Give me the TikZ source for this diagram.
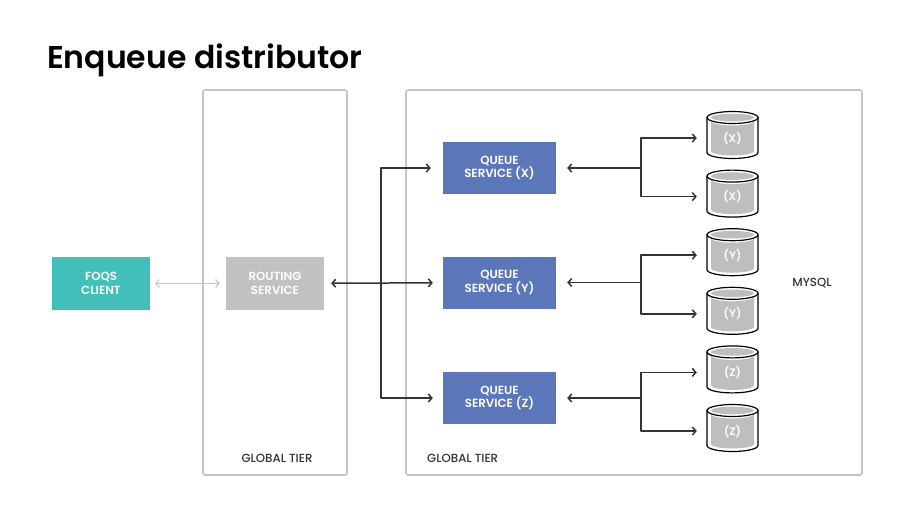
\documentclass[tikz,border=0pt]{standalone}
\usepackage{fontspec}
\setmainfont{Poppins}
\newfontfamily\semib{Poppins SemiBold}
\newfontfamily\medf{Poppins Medium}
\usetikzlibrary{arrows.meta}
\definecolor{tiergray}{HTML}{C4C4C4}
\definecolor{clientc}{HTML}{41BFB8}
\definecolor{routec}{HTML}{C0C1C3}
\definecolor{queuec}{HTML}{5B77B9}
\definecolor{dbgray}{HTML}{BDBEC0}
\definecolor{darkc}{HTML}{333333}
\begin{document}
\begin{tikzpicture}[x=1pt,y=1pt,>={Straight Barb[length=3.5pt,width=8pt]},line join=round,line cap=round,
  tier/.style={draw=tiergray,line width=1.6pt,rounded corners=2pt,minimum width=#1,minimum height=385pt},
  box/.style={fill=#1,text=white,font=\fontsize{11.8}{13.5}\semib,align=center,minimum width=98pt,minimum height=53pt,inner sep=0pt},
  gtier/.style={text=darkc,font=\fontsize{11.8}{13}\medf,inner sep=0pt},
  darrow/.style={draw=darkc,line width=1.5pt},
  lgarrow/.style={draw=tiergray,line width=1.1pt}]
\useasboundingbox (0,0) rectangle (915,-515);
\node[anchor=base west,font=\fontsize{31.5}{36}\semib,inner sep=0pt] (title) at (47,-68) {Enqueue distributor};
% tiers
\node[tier=144pt] (tierL) at (275,-282.5) {};
\node[tier=456pt] (tierR) at (634,-282.5) {};
\node[gtier] (gl) at (277,-458) {GLOBAL TIER};
\node[gtier,anchor=west] (gr) at (427,-458) {GLOBAL TIER};
\node[gtier] (mysql) at (812,-283) {MYSQL};
% services
\node[box=clientc] (client) at (101,-283.5) {FOQS\\CLIENT};
\node[box=routec] (routing) at (275,-283.5) {ROUTING\\SERVICE};
\foreach \q/\l/\y in {x/X/168,y/Y/282.5,z/Z/398}
  \node[box=queuec,minimum width=113pt,minimum height=52pt] (q\q) at (499.5,-\y) {QUEUE\\SERVICE (\l)};
% mysql cylinders
\foreach \i/\l in {1/X,2/X,3/Y,4/Y,5/Z,6/Z}{
  \pgfmathsetmacro\t{-135-58.6*(\i-1)+23.5}
  \pgfmathsetmacro\b{\t-47}
  \draw[line width=1.2pt,fill=white] (707,\t-6) -- (707,\b+6) arc[start angle=180,end angle=360,x radius=25.5,y radius=6]
    -- (758,\t-6) arc[start angle=0,end angle=180,x radius=25.5,y radius=6] -- cycle;
  \fill[dbgray] (711,\t-9.5) -- (711,\b+7.5) arc[start angle=180,end angle=360,x radius=21.5,y radius=4.5]
    -- (754,\t-9.5) arc[start angle=0,end angle=-180,x radius=21.5,y radius=4.5] -- cycle;
  \fill[dbgray] (732.5,\t-6) ellipse[x radius=21.5,y radius=3.8];
  \draw[line width=1.2pt] (707,\t-6) arc[start angle=180,end angle=360,x radius=25.5,y radius=6];
  \node[text=white,font=\fontsize{11}{12}\semib,minimum width=51pt] (db\i) at (732.5,\t-26.5) {(\l)};
}
% connectors
\draw[lgarrow,<->,shorten <=5pt,shorten >=6pt] (client) -- (routing);
\draw[darrow,<->,shorten <=7pt,shorten >=10pt] (routing) -- (qy);
\coordinate (jr) at (381,-282.5);
\draw[darrow,->,shorten >=12pt] (jr) |- (qx.west);
\draw[darrow,->,shorten >=10pt] (jr) |- (qz.west);
\foreach \q/\a/\b in {x/1/2,y/3/4,z/5/6}{
  \coordinate[xshift=85pt] (j\q) at (q\q.east);
  \draw[darrow,<-,shorten <=11pt] (q\q.east) -- (j\q);
  \draw[darrow,->,shorten >=10pt] (j\q) |- (db\a.west);
  \draw[darrow,->,shorten >=10pt] (j\q) |- (db\b.west);
}
\end{tikzpicture}
\end{document}
